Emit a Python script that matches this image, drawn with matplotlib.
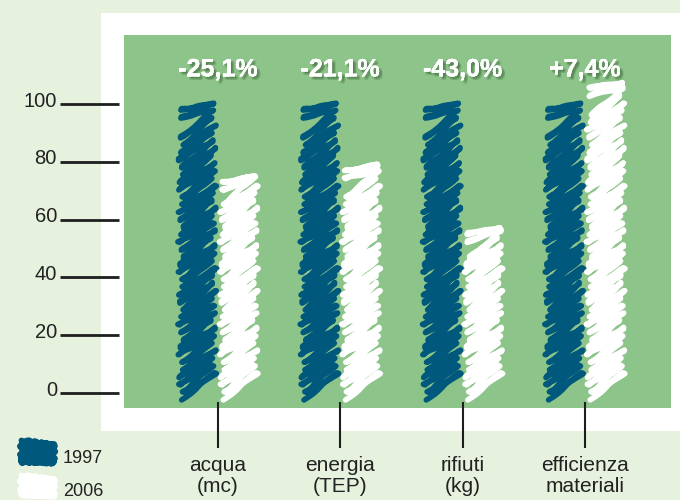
import numpy as np
import matplotlib
matplotlib.use("Agg")
import matplotlib.pyplot as plt
from matplotlib import patheffects as pe
from matplotlib.patches import Rectangle

# ---- data -------------------------------------------------------------
categories = ["acqua\n(mc)", "energia\n(TEP)", "rifiuti\n(kg)", "efficienza\nmateriali"]
series_names = ["1997", "2006"]
values_1997 = [100, 100, 100, 100]
values_2006 = [74.9, 78.9, 57.0, 107.4]
change_labels = ["-25,1%", "-21,1%", "-43,0%", "+7,4%"]
y_ticks = [0, 20, 40, 60, 80, 100]

# ---- style --------------------------------------------------------------
PAGE = "#e6f1de"
GREEN = "#8dc489"
BLUE = "#00597c"
WHITE = "#ffffff"
INK = "#1e1e1e"
TEXT = "#222222"

plt.rcParams["font.family"] = ["Liberation Sans", "DejaVu Sans"]

W, H = 680, 500
fig = plt.figure(figsize=(W / 100, H / 100), dpi=100, facecolor=PAGE)

# white card behind the plot area
card = Rectangle((101 / W, 69 / H), 579 / W, 418 / H, transform=fig.transFigure,
                 facecolor="white", edgecolor="none", zorder=-1)
fig.add_artist(card)

ax = fig.add_axes([124 / W, 92 / H, 547 / W, 373 / H], facecolor=GREEN)
ax.set_xlim(-0.7686, 3.704)
ax.set_ylim(-5.19, 123.88)

# pixel size of one data unit (keeps the pen strokes even)
PX_X = 122.3
PX_Y = 2.89


def zigzag(x0, x1, y0, y1, step, rise, wobble=0.0):
    """Pen scribble filling a box: strokes run lower-left to upper-right."""
    xs, ys = [], []
    y = y0
    k = 0
    while y + rise <= y1:
        jl = wobble * np.sin(1.7 * k + 0.4)
        jr = wobble * np.sin(2.3 * k + 1.1)
        xs += [x0 + jl, x1 + jr]
        ys += [y, y + rise]
        y += step
        k += 1
    # short closing strokes square off the top edge
    xs += [x0, x1, x0, x1]
    ys += [y1 - 0.5 * rise, y1, y1 - 0.2 * rise, y1]
    return np.array(xs), np.array(ys)


def scribble_bar(axis, xc, width, top, color, base=-2.4):
    x0, x1 = xc - width / 2, xc + width / 2
    xs, ys = zigzag(x0, x1, base, top, step=7.5 / PX_Y, rise=27 / PX_Y,
                    wobble=2.5 / PX_X)
    ln, = axis.plot(xs, ys, color=color, lw=4.0, solid_capstyle="round",
                    solid_joinstyle="round", zorder=3)
    ln.set_sketch_params(scale=0.8, length=40, randomness=2)
    return ln


x = np.arange(len(categories))
offset = 0.17
bar_w = 0.27
for xi, v in zip(x, values_1997):
    scribble_bar(ax, xi - offset, bar_w, v, BLUE)
for xi, v in zip(x, values_2006):
    scribble_bar(ax, xi + offset, bar_w, v, WHITE)

# percent change above each group
shadow = [pe.withSimplePatchShadow(offset=(dx, dy), shadow_rgbFace="#2f5a2c", alpha=0.16)
          for dx, dy in [(1.0, -1.0), (1.8, -1.8), (2.4, -1.2), (1.2, -2.4), (2.6, -2.6)]]
for xi, lbl in zip(x, change_labels):
    ax.text(xi, 112, lbl, ha="center", va="center", color="white", fontsize=18,
            fontweight="bold", path_effects=shadow + [pe.Normal()], zorder=5)

# axes: long tick rules on the left, category markers hanging below
for s in ax.spines.values():
    s.set_visible(False)
ax.spines["left"].set_position(("outward", 5 * 0.72))
ax.spines["bottom"].set_position(("outward", -6 * 0.72))

ax.set_yticks(y_ticks, [""] * len(y_ticks))
ax.set_xticks(x, categories)
ax.tick_params(axis="y", direction="out", length=59 * 0.72, width=2.0, color=INK)
ax.tick_params(axis="x", direction="out", length=46 * 0.72, width=1.5, color=INK,
               pad=6.0, labelsize=15, labelcolor=TEXT)
for lbl in ax.get_xticklabels():
    lbl.set_linespacing(1.12)

# y labels sit just on top of their rules
ytr = ax.get_yaxis_transform()
for t in y_ticks:
    ax.text(-0.1225, t - 0.9, str(t), transform=ytr, ha="right", va="baseline",
            fontsize=14.5, color=TEXT, clip_on=False)

# legend: scribbled swatches with year labels
leg = fig.add_axes([10 / W, 0, 110 / W, 68 / H])
leg.set_xlim(0, 110)
leg.set_ylim(68, 0)
leg.axis("off")
for (yt, yb), color, name in zip([(6, 33), (41, 66)], [BLUE, WHITE], series_names):
    xs, ys = zigzag(11, 44, yt + 2.5, yb - 2.5, step=2.4, rise=4.5, wobble=1.2)
    ln, = leg.plot(xs, ys, color=color, lw=4.2, solid_capstyle="round",
                   solid_joinstyle="round")
    ln.set_sketch_params(scale=1.2, length=8, randomness=3)
    leg.text(53, yb - 2, name, ha="left", va="baseline", fontsize=13, color=TEXT)

fig.savefig("out.png", dpi=100, facecolor=PAGE)
